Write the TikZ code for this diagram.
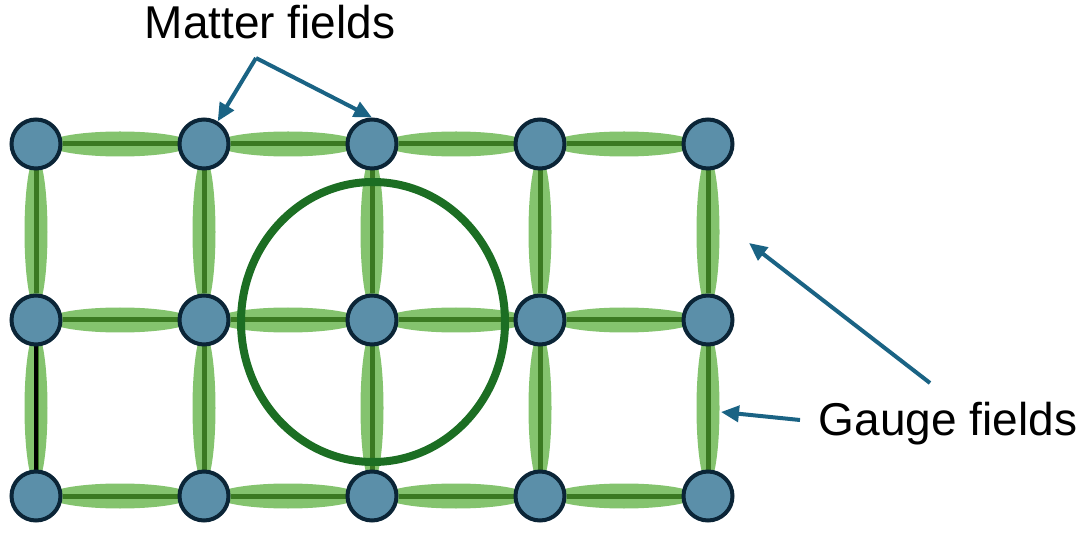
\documentclass[tikz,border=0pt]{standalone}
\usepackage{fontspec}
\setmainfont{Liberation Sans}
\usetikzlibrary{arrows.meta,calc,backgrounds}
\definecolor{sitefill}{HTML}{5B8FA9}
\definecolor{sitedraw}{HTML}{0B2537}
\definecolor{linkfill}{HTML}{84C36E}
\definecolor{linkdark}{HTML}{3B7A22}
\definecolor{ringgreen}{HTML}{1C6E23}
\definecolor{ptrblue}{HTML}{1A6384}
\tikzset{
  site/.style={circle, draw=sitedraw, fill=sitefill, line width=4pt,
    minimum size=49pt, inner sep=0pt},
  linkblob/.style={fill=linkfill},
  linkline/.style={draw=linkdark, line width=5pt},
  loopring/.style={draw=ringgreen, line width=8pt},
  ptrarrow/.style={-{Triangle[length=18pt,width=16pt]}, draw=ptrblue, fill=ptrblue, line width=4pt},
  fieldlabel/.style={font=\fontsize{46}{52}\selectfont, anchor=base, inner sep=0pt},
}

\begin{document}
\begin{tikzpicture}[x=1pt, y=-1pt]
  \useasboundingbox (0,0) rectangle (1084,534);
  % lattice sites
  \foreach \i in {0,...,4}
    \foreach \j in {0,1,2}
      \node[site] (s-\i-\j) at (36+168*\i, 144+176*\j) {};
  \begin{scope}[on background layer]
    % horizontal links
    \foreach \i/\k in {0/1,1/2,2/3,3/4}
      \foreach \j in {0,1,2} {
        \fill[linkblob] ($(s-\i-\j)!0.5!(s-\k-\j)$) ellipse (72 and 12.5);
        \draw[linkline] (s-\i-\j) -- (s-\k-\j);
      }
    % vertical links
    \foreach \i in {0,...,4}
      \foreach \j/\k in {0/1,1/2} {
        \fill[linkblob] ($(s-\i-\j)!0.5!(s-\i-\k)$) ellipse (11.5 and 76);
        \draw[linkline] (s-\i-\j) -- (s-\i-\k);
      }
    \draw[linkline, draw=black, line width=4pt] (s-0-1) -- (s-0-2);
    % plaquette loop
    \draw[loopring] ($(s-2-1)+(1,2)$) ellipse (132 and 140);
  \end{scope}
  % labels
  \node[fieldlabel] (matter) at (270,39) {Matter fields};
  \coordinate (matter-fork) at (256,58);
  \draw[ptrarrow] (matter-fork) -- (s-1-0);
  \draw[ptrarrow] (matter-fork) -- (s-2-0.north);
  \node[fieldlabel] (gauge) at (948,435) {Gauge fields};
  \coordinate (gauge-tail1) at (930,383);
  \coordinate (gauge-tip1) at (749,243);
  \coordinate (gauge-tail2) at (800,420);
  \coordinate (gauge-tip2) at (721,412);
  \draw[ptrarrow] (gauge-tail1) -- (gauge-tip1);
  \draw[ptrarrow] (gauge-tail2) -- (gauge-tip2);
\end{tikzpicture}
\end{document}
